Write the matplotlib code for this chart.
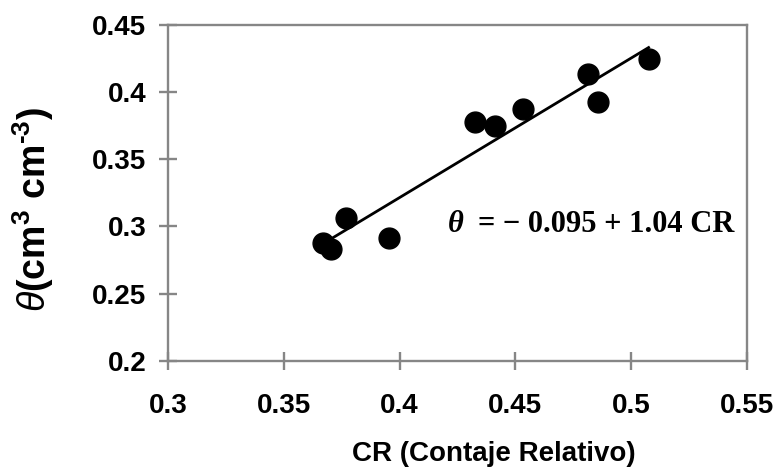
import numpy as np
import matplotlib
matplotlib.use("Agg")
import matplotlib.pyplot as plt

# ---- data ----
cr = [0.3668, 0.3702, 0.3767, 0.3952, 0.4326, 0.4413, 0.4533, 0.4815, 0.4856, 0.5076]
theta = [0.2875, 0.2830, 0.3061, 0.2912, 0.3774, 0.3747, 0.3871, 0.4131, 0.3927, 0.4245]
xticks = [0.3, 0.35, 0.4, 0.45, 0.5, 0.55]
yticks = [0.2, 0.25, 0.3, 0.35, 0.4, 0.45]
xtick_labels = ["0.3", "0.35", "0.4", "0.45", "0.5", "0.55"]
ytick_labels = ["0.2", "0.25", "0.3", "0.35", "0.4", "0.45"]
eq_theta = "θ"
eq_rest = "= \u2212 0.095 + 1.04 CR"
xlabel = "CR (Contaje Relativo)"
ylabel = r"$\theta$(cm$^{3}$ cm$^{\text{-}3}$)"

plt.rcParams['font.family'] = ['Liberation Sans', 'DejaVu Sans']
plt.rcParams['mathtext.fontset'] = 'custom'
plt.rcParams['mathtext.rm'] = 'Liberation Sans:bold'
plt.rcParams['mathtext.it'] = 'Liberation Sans:italic'
plt.rcParams['mathtext.bf'] = 'Liberation Sans:bold'

fig = plt.figure(figsize=(7.79, 4.70), dpi=100)
ax = fig.add_axes([168.3 / 779, (470 - 361) / 470, (746.7 - 168.3) / 779, (361 - 24.7) / 470])

frame_col = '#868686'

# trend line (least squares fit, drawn over the data range)
slope, intercept = np.polyfit(cr, theta, 1)
xl = np.array([min(cr), max(cr)])
ax.plot(xl, intercept + slope * xl, color='black', lw=2.0, zorder=2)

ax.plot(cr, theta, 'o', color='black', ms=15, zorder=3)

ax.set_xlim(0.3, 0.55)
ax.set_ylim(0.2, 0.45)
ax.set_xticks(xticks)
ax.set_xticklabels(xtick_labels)
ax.set_yticks(yticks)
ax.set_yticklabels(ytick_labels)

for s in ax.spines.values():
    s.set_color(frame_col)
    s.set_linewidth(1.7)

ax.tick_params(axis='both', direction='inout', length=13.5, width=1.7, color=frame_col,
               labelsize=20)
ax.tick_params(axis='x', pad=16)
ax.tick_params(axis='y', pad=9)
for lab in ax.get_xticklabels() + ax.get_yticklabels():
    lab.set_fontweight('bold')

ax.set_xlabel(xlabel, fontsize=20, fontweight='bold')
ax.xaxis.set_label_coords(0.563, -0.238)
ax.set_ylabel(ylabel, fontsize=27, fontweight='bold')
ax.yaxis.set_label_coords(-0.195, 0.45)

# equation text
ax.text(0.4836, 0.3845, eq_theta, transform=ax.transAxes, ha='left', va='baseline',
        fontsize=22, fontweight='bold', fontstyle='italic',
        family=['Liberation Serif', 'DejaVu Serif'])
ax.text(0.978, 0.3845, eq_rest, transform=ax.transAxes, ha='right', va='baseline',
        fontsize=22, fontweight='bold', family=['Liberation Serif', 'DejaVu Serif'])

fig.savefig('out.png', dpi=100)
